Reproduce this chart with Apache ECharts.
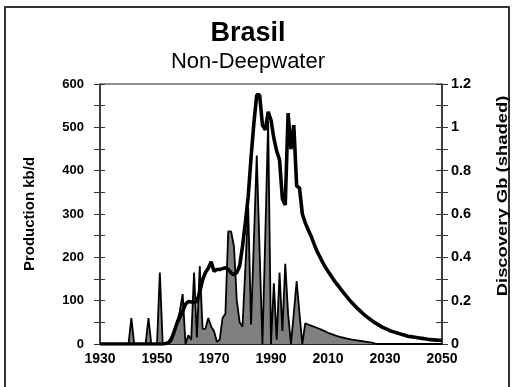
<!DOCTYPE html>
<html><head><meta charset="utf-8">
<script src="https://cdn.jsdelivr.net/npm/echarts@6/dist/echarts.min.js"></script>
<style>html,body{margin:0;padding:0;background:#fff}#c{width:512px;height:387px}</style>
</head><body><div id="c"></div>
<script>
const startYear = 1930;
// Production kb/d, one value per year 1930..2050
const production = [
  0,0,0,0,0,0,0,0,0,0,
  0,0,0,0,0,0,0,0,0,0,
  0,0,0,1,3,10,28,48,62,75,
  92,98,97,96,98,120,148,165,175,190,
  168,172,172,174,176,172,164,160,165,180,
  225,280,340,430,510,575,575,505,494,536,
  517,475,445,425,335,321,533,450,505,365,
  360,300,280,264,250,233,216,203,190,178,
  168,158,148,139,131,122,114,106,98,91,
  84,78,72,66,61,56,51,47,43,39,
  36,33,30,28,26,24,22,20,18,17,
  16,15,14,13,12,11,10,9.5,9,8.5,
  8
];
// Discovery Gb, one value per year 1930..2050
const discovery = [
  0,0,0,0,0,0,0,0,0,0,
  0,0.12,0,0,0,0,0,0.12,0,0,
  0,0.33,0,0,0.01,0.03,0.06,0.1,0.15,0.23,
  0,0.04,0.02,0.33,0.03,0.36,0.07,0.07,0.12,0.08,
  0.06,0.01,0.02,0.12,0.14,0.52,0.52,0.45,0.2,0.1,
  0.08,0.35,0.63,0.09,0.48,0.87,0.43,0,0.5,1.03,
  0,0.28,0.02,0.33,0.06,0.37,0.14,0,0.14,0.29,
  0.14,0,0.095,0.09,0.085,0.08,0.075,0.07,0.064,0.058,
  0.052,0.047,0.042,0.037,0.033,0.03,0.027,0.024,0.021,0.019,
  0.017,0.015,0.013,0.011,0.009,0.007,0.004,0,0,0,
  0,0,0,0,0,0,0,0,0,0,
  0,0,0,0,0,0,0,0,0,0,
  0
];
const titleText = 'Brasil';
const subtitleText = 'Non-Deepwater';
const leftAxisName = 'Production kb/d';
const rightAxisName = 'Discovery Gb (shaded)';

const years = production.map((_, i) => startYear + i);
const prodData = years.map((y, i) => [y, production[i]]);
const discData = years.map((y, i) => [y, discovery[i]]);
const FONT = '"Liberation Sans", Arial, sans-serif';

const chart = echarts.init(document.getElementById('c'), null, {renderer: 'canvas'});
const tickStyle = {color: '#333', width: 1};
chart.setOption({
  animation: false,
  backgroundColor: '#fff',
  grid: {left: 100, right: 70, top: 84, bottom: 43, show: true, borderColor: '#222', borderWidth: 1, backgroundColor: 'transparent'},
  xAxis: {
    type: 'value', min: 1930, max: 2050, interval: 20,
    axisLine: {show: true, lineStyle: {color: '#222', width: 1}},
    axisTick: {show: false}, splitLine: {show: false},
    axisLabel: {fontFamily: FONT, fontSize: 14, fontWeight: 'bold', color: '#000', margin: 8, formatter: v => String(v)}
  },
  yAxis: [
    {type: 'value', position: 'left', min: 0, max: 600, interval: 50,
     axisLine: {show: true, lineStyle: {color: '#222', width: 1.5}},
     axisTick: {show: true, inside: false, length: 6, lineStyle: tickStyle},
     splitLine: {show: false},
     axisLabel: {fontFamily: FONT, fontSize: 13, fontWeight: 'bold', color: '#000', margin: 16,
       formatter: v => (Math.round(v) % 100 === 0 ? String(Math.round(v)) : '')}},
    {type: 'value', position: 'right', min: 0, max: 1.2, interval: 0.1,
     axisLine: {show: true, lineStyle: {color: '#222', width: 1.5}},
     axisTick: {show: true, inside: false, length: 6, lineStyle: tickStyle},
     splitLine: {show: false},
     axisLabel: {fontFamily: FONT, fontSize: 14.5, fontWeight: 'bold', color: '#000', margin: 9,
       formatter: v => { const r = Math.round(v * 10); return r % 2 === 0 ? String(r / 10) : ''; }}},
    {type: 'value', position: 'left', min: 0, max: 600, interval: 50,
     axisLine: {show: false}, axisTick: {show: true, inside: true, length: 5, lineStyle: tickStyle},
     axisLabel: {show: false}, splitLine: {show: false}},
    {type: 'value', position: 'right', min: 0, max: 1.2, interval: 0.1,
     axisLine: {show: false}, axisTick: {show: true, inside: true, length: 6, lineStyle: tickStyle},
     axisLabel: {show: false}, splitLine: {show: false}}
  ],
  series: [
    {name: 'Discovery', type: 'line', yAxisIndex: 1, data: discData, symbol: 'none',
     lineStyle: {color: '#000', width: 1.8}, areaStyle: {color: '#808080', opacity: 1}, z: 2},
    {name: 'Production', type: 'line', yAxisIndex: 0, data: prodData, symbol: 'none',
     lineStyle: {color: '#000', width: 3.6}, z: 3}
  ],
  graphic: [
    {type: 'rect', shape: {x: 5, y: 7, width: 504, height: 400}, style: {fill: null, stroke: '#333', lineWidth: 2}, z: 0, silent: true},
    {type: 'text', x: 248, y: 20, style: {text: titleText, fontFamily: FONT, fontSize: 27, fontWeight: 'bold', fill: '#000', align: 'center', verticalAlign: 'top'}},
    {type: 'text', x: 248, y: 51, style: {text: subtitleText, fontFamily: FONT, fontSize: 22, fontWeight: 'normal', fill: '#000', align: 'center', verticalAlign: 'top'}},
    {type: 'text', x: 30, y: 214, rotation: Math.PI / 2, style: {text: leftAxisName, fontFamily: FONT, fontSize: 15, fontWeight: 'bold', fill: '#000', align: 'center', verticalAlign: 'middle'}},
    {type: 'text', x: 503, y: 196, rotation: Math.PI / 2, scaleX: 1.27, style: {text: rightAxisName, fontFamily: FONT, fontSize: 14.5, fontWeight: 'bold', fill: '#000', align: 'center', verticalAlign: 'middle'}}
  ]
});
</script>
</body></html>
